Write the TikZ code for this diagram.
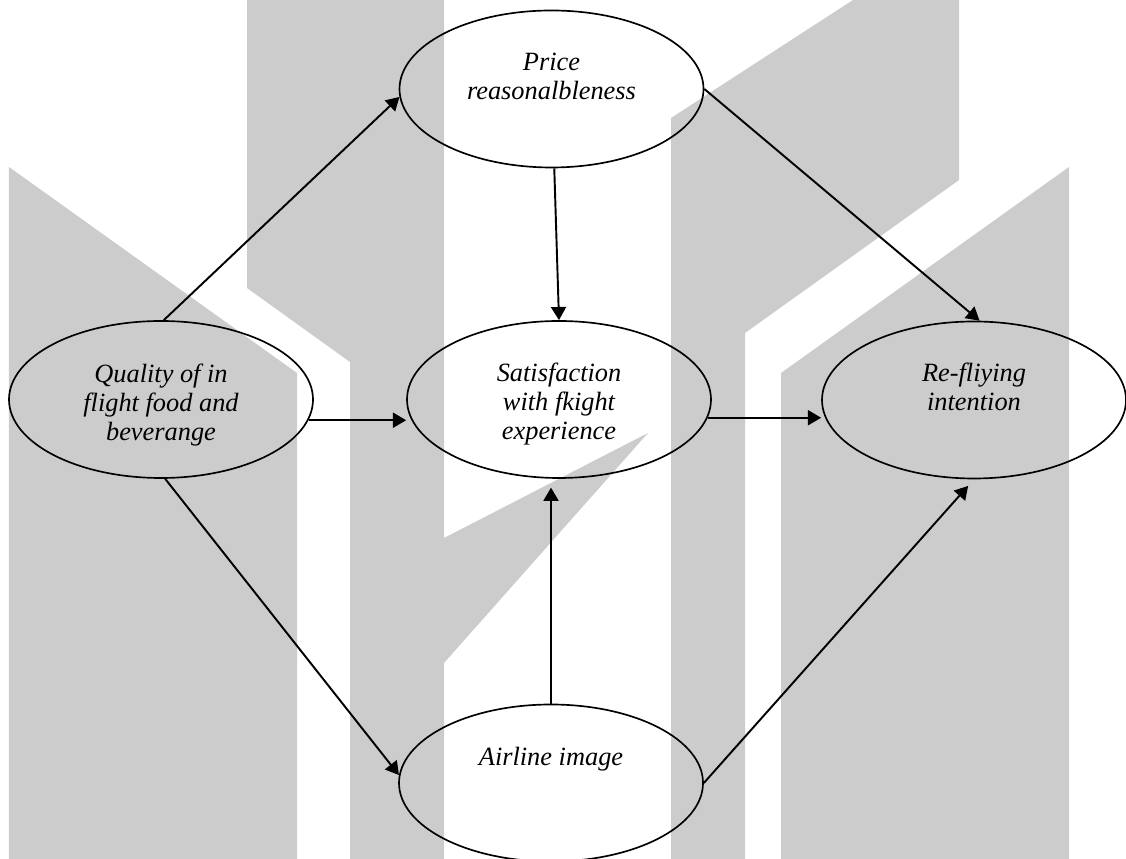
\documentclass[tikz,border=0pt]{standalone}
\usepackage{fontspec}
\setmainfont{Liberation Serif}
\usepackage{tikz}
\usetikzlibrary{arrows.meta, shapes.geometric, calc}
\definecolor{wmgray}{HTML}{CCCCCC}
\newcommand{\lifted}[2]{\raisebox{#1}[\height][\depth]{\begin{tabular}{@{}c@{}}#2\end{tabular}}}

\begin{document}
\begin{tikzpicture}[
  latent/.style={ellipse, draw, line width=0.95pt, minimum width=6.08cm, minimum height=3.14cm,
                 inner sep=0pt, font=\itshape\fontsize{15}{16.5}\selectfont},
  link/.style={-{Triangle[length=7.5pt, width=8.5pt]}, line width=1.1pt},
]
  \useasboundingbox (0,0) rectangle (22.52,17.18);

  \fill[wmgray] (0.18,13.84) -- (5.94,9.72) -- (5.94,0) -- (0.18,0) -- cycle;
  \fill[wmgray] (4.94,17.18) -- (8.88,17.18) -- (8.88,0) -- (7.00,0) -- (7.00,9.94) -- (4.94,11.42) -- cycle;
  \fill[wmgray] (8.88,6.42) -- (12.96,8.52) -- (8.88,3.92) -- cycle;
  \fill[wmgray] (13.42,0) -- (13.42,14.82) -- (17.06,17.18) -- (19.18,17.18) -- (19.18,13.58)
                -- (14.90,10.52) -- (14.90,0) -- cycle;
  \fill[wmgray] (15.62,0) -- (15.62,9.72) -- (21.38,13.84) -- (21.38,0) -- cycle;

  \node[latent] (price) at (11.03,15.40) {\lifted{0.20cm}{Price\\reasonalbleness}};
  \node[latent] (qual) at (3.22,9.19) {\lifted{-0.12cm}{Quality of in\\flight food and\\beverange}};
  \node[latent] (sat) at (11.18,9.19) {\lifted{-0.10cm}{Satisfaction\\with fkight\\experience}};
  \node[latent] (refly) at (19.48,9.18) {\lifted{0.20cm}{Re-fliying\\intention}};
  \node[latent] (img) at (11.02,1.52) {\lifted{0.46cm}{Airline image}};

  \draw[link] (qual.88) -- (price.183);
  \draw[link] (price.272) -- (sat.north);
  \draw[link] (price.east) -- (refly.86);
  \draw[link] (qual.-8) -- (qual.-8 -| sat.west);
  \draw[link] (sat.-7) -- (sat.-7 -| refly.west);
  \draw[link] (qual.273) -- (img.177);
  \draw[link, shorten >=5pt] (img.north) -- (img.north |- sat.south);
  \draw[link, shorten >=5pt] (img.east) -- (refly.south);
\end{tikzpicture}
\end{document}
